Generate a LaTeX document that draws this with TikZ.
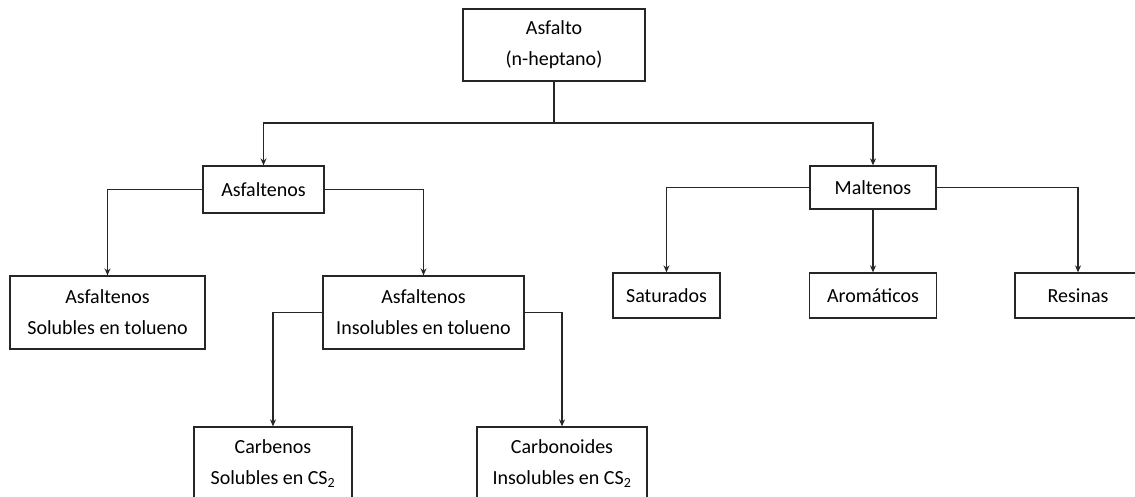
\documentclass[tikz,border=0pt]{standalone}
\usepackage{fontspec}
\setmainfont{Carlito}
\usepackage{tikz}
\usetikzlibrary{arrows.meta}

\begin{document}
\begin{tikzpicture}[x=1pt,y=-1pt,
	box/.style={draw=black!85, line width=1.3pt, align=center, inner sep=0pt,
		font=\fontsize{20}{31}\selectfont},
	conn/.style={black!85, line width=1.3pt},
	arr/.style={conn, -{Stealth[length=7pt,width=6pt]}}]
		\useasboundingbox (0,0) rectangle (1135,496);
		% top level
		\node[box, minimum width=182pt, minimum height=72pt] (asfalto) at (554,45) {Asfalto\\(n-heptano)};
		\coordinate (bus) at (554,123);
		% Asfaltenos branch
		\node[box, minimum width=121pt, minimum height=47pt] (asfaltenos) at (263.5,189.5) {Asfaltenos};
		\node[box, minimum width=195pt, minimum height=73pt] (solubles) at (107.5,312.5) {Asfaltenos\\Solubles en tolueno};
		\node[box, minimum width=201pt, minimum height=73pt] (insolubles) at (423.5,312.5) {Asfaltenos\\Insolubles en tolueno};
		\node[box, minimum width=158pt, minimum height=73pt] (carbenos) at (273,463.5) {Carbenos\\Solubles en CS\textsubscript{2}};
		\node[box, minimum width=170pt, minimum height=73pt] (carbonoides) at (562,463.5) {Carbonoides\\Insolubles en CS\textsubscript{2}};
		% Maltenos branch
		\node[box, minimum width=126pt, minimum height=43pt] (maltenos) at (873,187.5) {Maltenos};
		\node[box, minimum width=107pt, minimum height=45pt] (saturados) at (666.5,295.5) {Saturados};
		\node[box, minimum width=127pt, minimum height=45pt] (aromaticos) at (873,295.5) {Aromáticos};
		\node[box, minimum width=126pt, minimum height=45pt] (resinas) at (1078,295.5) {Resinas};
		% connectors
		\draw[conn] (asfalto.south) -- (bus);
		\draw[arr] (bus) -| (asfaltenos.north);
		\draw[arr] (bus) -| (maltenos.north);
		\draw[arr] (asfaltenos.west) -| (solubles.north);
		\draw[arr] (asfaltenos.east) -| (insolubles.north);
		\draw[arr] (insolubles.west) -| (carbenos.north);
		\draw[arr] (insolubles.east) -| (carbonoides.north);
		\draw[arr] (maltenos.west) -| (saturados.north);
		\draw[arr] (maltenos.south) -- (aromaticos.north);
		\draw[arr] (maltenos.east) -| (resinas.north);
	\end{tikzpicture}
\end{document}
